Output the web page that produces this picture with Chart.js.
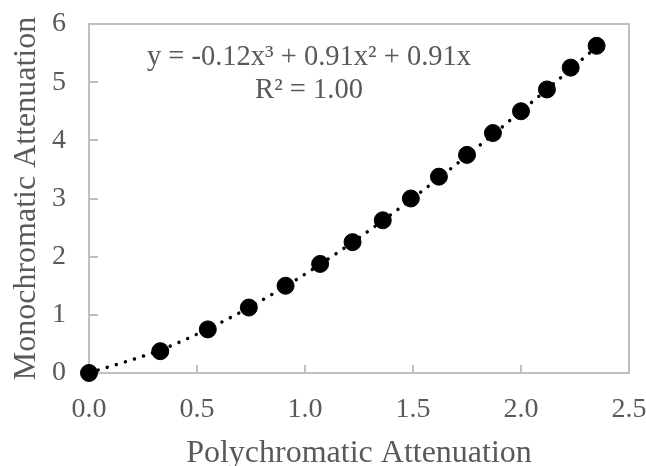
<!DOCTYPE html>
<html>
<head>
<meta charset="utf-8">
<script src="https://cdn.jsdelivr.net/npm/chart.js@4.4.1/dist/chart.umd.min.js"></script>
<style>
  html, body { margin: 0; padding: 0; background: #fff; }
  #wrap { width: 646px; height: 466px; position: relative; }
</style>
</head>
<body>
<div id="wrap"><canvas id="chart"></canvas></div>
<script>
// Measured attenuation pairs
const polyAtten = [0, 0.33, 0.55, 0.74, 0.91, 1.07, 1.22, 1.36, 1.49, 1.62, 1.75, 1.87, 2.00, 2.12, 2.23, 2.35];
const monoAtten = [0, 0.375, 0.75, 1.125, 1.5, 1.875, 2.25, 2.625, 3.0, 3.375, 3.75, 4.125, 4.5, 4.875, 5.25, 5.625];

// Cubic trendline coefficients (x^3, x^2, x, const)
const fitCoef = [-0.12, 0.91, 0.91, 0];
const fitLabel = ['y = -0.12x\u00B3 + 0.91x\u00B2 + 0.91x', 'R\u00B2 = 1.00'];

const xTicks = [0, 0.5, 1.0, 1.5, 2.0, 2.5];
const yTicks = [0, 1, 2, 3, 4, 5, 6];

const textGray = '#595959';
const frameGray = '#bfbfbf';
const serif = '"Liberation Serif", "Times New Roman", serif';

const fitY = x => fitCoef[0] * x * x * x + fitCoef[1] * x * x + fitCoef[2] * x + fitCoef[3];
const points = polyAtten.map((x, i) => ({ x: x, y: monoAtten[i] }));
const trend = polyAtten.map(x => ({ x: x, y: fitY(x) }));

// frame, inward tick marks and the fit equation
const framePlugin = {
  id: 'frame',
  beforeDatasetsDraw(chart) {
    const { ctx, chartArea: a, scales } = chart;
    ctx.save();
    ctx.strokeStyle = frameGray;
    ctx.lineWidth = 2;
    ctx.strokeRect(a.left, a.top, a.right - a.left, a.bottom - a.top);
    ctx.beginPath();
    xTicks.slice(1, -1).forEach(v => {
      const px = Math.round(scales.x.getPixelForValue(v));
      ctx.moveTo(px, a.bottom);
      ctx.lineTo(px, a.bottom - 8);
    });
    yTicks.slice(1, -1).forEach(v => {
      const py = Math.round(scales.y.getPixelForValue(v));
      ctx.moveTo(a.left, py);
      ctx.lineTo(a.left + 9, py);
    });
    ctx.stroke();

    ctx.fillStyle = textGray;
    ctx.font = '28.5px ' + serif;
    ctx.textAlign = 'center';
    ctx.textBaseline = 'alphabetic';
    const cx = 309;
    ctx.fillText(fitLabel[0], cx, 65);
    ctx.fillText(fitLabel[1], cx, 98);
    ctx.restore();
  }
};

new Chart(document.getElementById('chart'), {
  type: 'scatter',
  data: {
    datasets: [
      {
        label: 'Data',
        data: points,
        backgroundColor: '#000',
        borderColor: '#000',
        pointRadius: 8.5,
        pointHoverRadius: 8.5,
        showLine: false,
        clip: false,
        order: 1
      },
      {
        label: 'Poly. trend',
        data: trend,
        showLine: true,
        borderColor: '#000',
        borderWidth: 3.5,
        borderDash: [0.01, 9.5],
        borderCapStyle: 'round',
        cubicInterpolationMode: 'monotone',
        pointRadius: 0,
        fill: false,
        clip: false,
        order: 2
      }
    ]
  },
  options: {
    responsive: true,
    maintainAspectRatio: false,
    animation: false,
    layout: { padding: { top: 24, right: 17, left: 0, bottom: 0 } },
    plugins: {
      legend: { display: false },
      tooltip: { enabled: false }
    },
    scales: {
      x: {
        type: 'linear',
        min: 0,
        max: 2.5,
        afterBuildTicks: s => { s.ticks = xTicks.map(v => ({ value: v })); },
        afterFit: s => { s.height = 93; s.paddingLeft = 0; s.paddingRight = 0; },
        grid: { display: false },
        border: { display: false },
        ticks: {
          color: textGray,
          font: { family: serif, size: 28 },
          padding: 12,
          maxRotation: 0,
          callback: v => v.toFixed(1)
        },
        title: {
          display: true,
          text: 'Polychromatic Attenuation',
          color: textGray,
          font: { family: serif, size: 32 },
          padding: { top: 4, bottom: -7 }
        }
      },
      y: {
        type: 'linear',
        min: 0,
        max: 6,
        afterBuildTicks: s => { s.ticks = yTicks.map(v => ({ value: v })); },
        afterFit: s => { s.width = 89; s.paddingTop = 0; s.paddingBottom = 0; },
        grid: { display: false },
        border: { display: false },
        ticks: {
          color: textGray,
          font: { family: serif, size: 28 },
          padding: 15,
          callback: v => String(v)
        },
        title: {
          display: true,
          text: 'Monochromatic Attenuation',
          color: textGray,
          font: { family: serif, size: 32 },
          padding: { top: 7, bottom: 0 }
        }
      }
    }
  },
  plugins: [framePlugin]
});
</script>
</body>
</html>
